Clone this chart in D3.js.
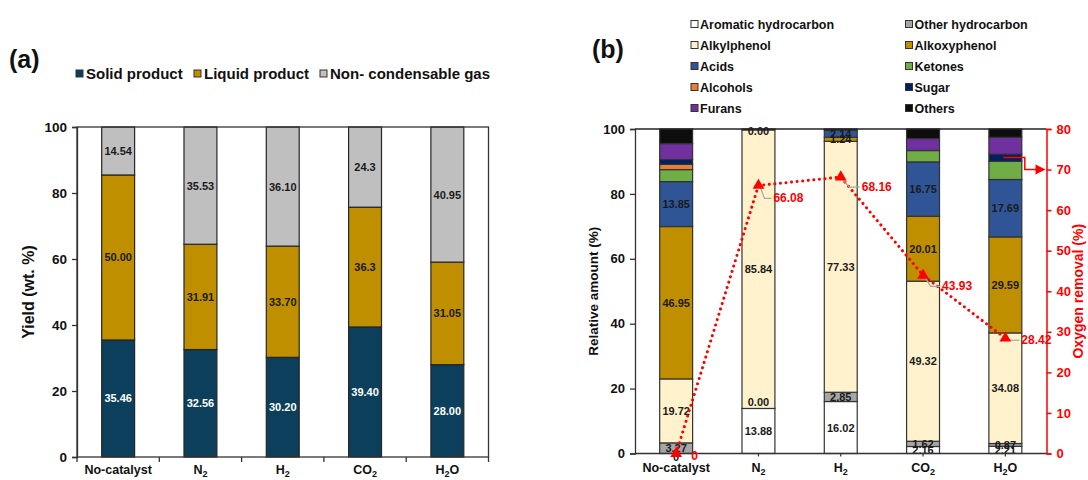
<!DOCTYPE html>
<html><head><meta charset="utf-8">
<script src="https://cdn.jsdelivr.net/npm/d3@7"></script>
<style>
body{margin:0;background:#fff}
svg{display:block}
text{font-family:"Liberation Sans",Arial,sans-serif;font-weight:bold}
</style>
</head><body>
<svg id="chart" width="1088" height="480"></svg>
<script>
// ---- shared categories ----
const categories = ["No-catalyst", "N2", "H2", "CO2", "H2O"];

// ---- panel (a): product yields, wt.% (values kept as printed) ----
const yieldSeries = ["Solid product", "Liquid product", "Non- condensable gas"];
const solidProduct  = ["35.46", "32.56", "30.20", "39.40", "28.00"];
const liquidProduct = ["50.00", "31.91", "33.70", "36.3", "31.05"];
const gasProduct    = ["14.54", "35.53", "36.10", "24.3", "40.95"];
const yTicksA = [0, 20, 40, 60, 80, 100];

// ---- panel (b): liquid composition, relative amount % ----
const compoundSeries = ["Aromatic hydrocarbon", "Other hydrocarbon", "Alkylphenol", "Alkoxyphenol",
  "Acids", "Ketones", "Alcohols", "Sugar", "Furans", "Others"];
const aromaticHC   = [0, 13.88, 16.02, 2.16, 2.21];
const otherHC      = [3.27, 0, 2.85, 1.62, 0.87];
const alkylphenol  = [19.72, 85.84, 77.33, 49.32, 34.08];
const alkoxyphenol = [46.95, 0, 1.24, 20.01, 29.59];
const acids        = [13.85, 0, 2.14, 16.75, 17.69];
const ketones      = [3.7, 0, 0, 3.5, 5.6];
const alcohols     = [1.6, 0, 0, 0, 0];
const sugar        = [1.5, 0, 0, 0, 2.2];
const furans       = [4.9, 0, 0, 3.7, 5.2];
const others       = [4.5, 0.28, 0.42, 2.94, 2.56];
const oxygenRemoval = [0, 66.08, 68.16, 43.93, 28.42];
const yTicksB = [0, 20, 40, 60, 80, 100];
const yTicksR = [0, 10, 20, 30, 40, 50, 60, 70, 80];

// ---- styling ----
const yieldColors = ["#0b3f5c", "#bf8f00", "#bfbfbf"];
const yieldLabelColors = ["#ffffff", "#1a1a1a", "#1a1a1a"];
const compoundColors = ["#ffffff", "#a6a6a6", "#fff2cc", "#bf8f00", "#2f5597",
  "#70ad47", "#ed7d31", "#002060", "#7030a0", "#0d0d0d"];
const labeledCompounds = 5; // first five series carry value labels
const RED = "#ff0000";

const svg = d3.select("#chart");

// writes a category name with chemical subscripts (N2 -> N₂)
function chemText(sel, name, size) {
  const parts = name.match(/[A-Za-z\-]+|\d+/g);
  parts.forEach((p, i) => {
    const prevSub = i > 0 && /\d/.test(parts[i - 1]);
    if (/^\d+$/.test(p) && i > 0) {
      sel.append("tspan").attr("dy", 3).attr("font-size", size * 0.72).text(p);
    } else {
      sel.append("tspan").attr("dy", prevSub ? -3 : 0).text(p);
    }
  });
}

// ================= panel (a) =================
(function () {
  const left = 77, right = 488.5, top = 127, bottom = 457;
  const x = d3.scaleBand().domain(categories).range([left, right]).paddingInner(0.6).paddingOuter(0.3);
  const y = d3.scaleLinear().domain([0, 100]).range([bottom, top]);
  const g = svg.append("g");

  const rows = categories.map((c, i) => ({
    cat: c, "Solid product": +solidProduct[i], "Liquid product": +liquidProduct[i],
    "Non- condensable gas": +gasProduct[i],
    text: { "Solid product": solidProduct[i], "Liquid product": liquidProduct[i], "Non- condensable gas": gasProduct[i] }
  }));
  const stacked = d3.stack().keys(yieldSeries)(rows);

  stacked.forEach((layer, si) => {
    const lg = g.append("g");
    lg.selectAll("rect").data(layer).join("rect")
      .attr("x", d => x(d.data.cat)).attr("width", x.bandwidth())
      .attr("y", d => y(d[1])).attr("height", d => y(d[0]) - y(d[1]))
      .attr("fill", yieldColors[si]).attr("stroke", "#262626").attr("stroke-width", 1.2);
    lg.selectAll("text").data(layer).join("text")
      .attr("x", d => x(d.data.cat) + x.bandwidth() / 2)
      .attr("y", d => (y(d[0]) + y(d[1])) / 2 + 4)
      .attr("text-anchor", "middle").attr("font-size", 11)
      .attr("fill", yieldLabelColors[si])
      .text(d => d.data.text[layer.key]);
  });

  // frame
  g.append("rect").attr("x", left).attr("y", top).attr("width", right - left).attr("height", bottom - top)
    .attr("fill", "none").attr("stroke", "#333").attr("stroke-width", 1.3);

  // y axis
  const ya = g.append("g").attr("transform", `translate(${left},0)`)
    .call(d3.axisLeft(y).tickValues(yTicksA).tickSize(5).tickPadding(5));
  ya.select(".domain").attr("stroke", "#333").attr("stroke-width", 1.3);
  ya.selectAll(".tick line").attr("stroke", "#333").attr("stroke-width", 1.3);
  ya.selectAll(".tick text").attr("font-size", 13.5).attr("fill", "#111")
    .attr("font-family", "Liberation Sans, Arial, sans-serif").attr("font-weight", "bold");

  // x ticks at category boundaries
  g.selectAll("line.xt").data(d3.range(categories.length + 1)).join("line")
    .attr("x1", i => left + i * (right - left) / categories.length)
    .attr("x2", i => left + i * (right - left) / categories.length)
    .attr("y1", bottom).attr("y2", bottom + 5).attr("stroke", "#333").attr("stroke-width", 1.3);

  categories.forEach(c => {
    const t = g.append("text").attr("x", x(c) + x.bandwidth() / 2).attr("y", bottom + 17)
      .attr("text-anchor", "middle").attr("font-size", 12.5).attr("fill", "#111");
    chemText(t, c, 12.5);
  });

  // axis title
  g.append("text").attr("transform", `translate(34,${(top + bottom) / 2}) rotate(-90)`)
    .attr("text-anchor", "middle").attr("font-size", 16).attr("fill", "#111").text("Yield (wt. %)");

  // panel tag
  g.append("text").attr("x", 9).attr("y", 68).attr("font-size", 25).attr("fill", "#111").text("(a)");

  // legend
  const legX = [76, 194, 320];
  yieldSeries.forEach((s, i) => {
    g.append("rect").attr("x", legX[i]).attr("y", 70).attr("width", 7).attr("height", 7)
      .attr("fill", yieldColors[i]).attr("stroke", "#333").attr("stroke-width", 1);
    g.append("text").attr("x", legX[i] + 10).attr("y", 79).attr("font-size", 15).attr("fill", "#111").text(s);
  });
})();

// ================= panel (b) =================
(function () {
  const left = 635, right = 1046.5, top = 129, bottom = 453.5;
  const x = d3.scaleBand().domain(categories).range([left, right]).paddingInner(0.6).paddingOuter(0.3);
  const y = d3.scaleLinear().domain([0, 100]).range([bottom, top]);
  const yR = d3.scaleLinear().domain([0, 80]).range([bottom, top]);
  const g = svg.append("g");
  const fmt = d3.format(".2f");

  const seriesValues = [aromaticHC, otherHC, alkylphenol, alkoxyphenol, acids,
    ketones, alcohols, sugar, furans, others];
  const rows = categories.map((c, i) => {
    const r = { cat: c };
    compoundSeries.forEach((s, k) => r[s] = seriesValues[k][i]);
    return r;
  });
  const stacked = d3.stack().keys(compoundSeries)(rows);

  stacked.forEach((layer, si) => {
    g.append("g").selectAll("rect").data(layer.filter(d => d[1] - d[0] > 0)).join("rect")
      .attr("x", d => x(d.data.cat)).attr("width", x.bandwidth())
      .attr("y", d => y(d[1])).attr("height", d => y(d[0]) - y(d[1]))
      .attr("fill", compoundColors[si]).attr("stroke", "#333").attr("stroke-width", 1.2);
  });

  // value labels for the labelled series
  const lblG = g.append("g");
  categories.forEach((c, ci) => {
    const used = [];
    for (let si = 0; si < labeledCompounds; si++) {
      const d = stacked[si][ci];
      const v = d[1] - d[0];
      let cy;
      if (v === 0) {
        const yb = y(d[0]);
        if (d[0] === 0) cy = yb + 3;
        else if (d[0] > 99) cy = yb + 1;
        else cy = yb - 6;
      } else cy = (y(d[0]) + y(d[1])) / 2;
      if (used.some(u => Math.abs(u - cy) < 1)) continue;
      used.push(cy);
      lblG.append("text").attr("x", x(c) + x.bandwidth() / 2).attr("y", cy + 4)
        .attr("text-anchor", "middle").attr("font-size", 11).attr("fill", "#1a1a1a")
        .text(v === 0 && ci === 0 ? "0" : fmt(seriesValues[si][ci]));
    }
  });

  // top frame line
  g.append("line").attr("x1", left).attr("x2", right).attr("y1", top).attr("y2", top)
    .attr("stroke", "#222").attr("stroke-width", 1.5);

  // left axis
  const ya = g.append("g").attr("transform", `translate(${left},0)`)
    .call(d3.axisLeft(y).tickValues(yTicksB).tickSize(5).tickPadding(5));
  ya.select(".domain").attr("stroke", "#333").attr("stroke-width", 1.3);
  ya.selectAll(".tick line").attr("stroke", "#333").attr("stroke-width", 1.3);
  ya.selectAll(".tick text").attr("font-size", 13).attr("fill", "#111")
    .attr("font-family", "Liberation Sans, Arial, sans-serif").attr("font-weight", "bold");

  // right axis (oxygen removal)
  const yr = g.append("g").attr("transform", `translate(${right},0)`)
    .call(d3.axisRight(yR).tickValues(yTicksR).tickSize(5).tickPadding(5));
  yr.select(".domain").attr("stroke", RED).attr("stroke-width", 1.5);
  yr.selectAll(".tick line").attr("stroke", RED).attr("stroke-width", 1.5);
  yr.selectAll(".tick text").attr("font-size", 13).attr("fill", RED)
    .attr("font-family", "Liberation Sans, Arial, sans-serif").attr("font-weight", "bold");

  // bottom axis
  g.append("line").attr("x1", left).attr("x2", right).attr("y1", bottom).attr("y2", bottom)
    .attr("stroke", "#333").attr("stroke-width", 1.3);
  categories.forEach(c => {
    const cx = x(c) + x.bandwidth() / 2;
    g.append("line").attr("x1", cx).attr("x2", cx).attr("y1", bottom).attr("y2", bottom + 3)
      .attr("stroke", "#333").attr("stroke-width", 1.2);
    const t = g.append("text").attr("x", cx).attr("y", bottom + 18)
      .attr("text-anchor", "middle").attr("font-size", 12.5).attr("fill", "#111");
    chemText(t, c, 12.5);
  });

  // axis titles
  g.append("text").attr("transform", `translate(598,${(top + bottom) / 2}) rotate(-90)`)
    .attr("text-anchor", "middle").attr("font-size", 13.5).attr("fill", "#111").text("Relative amount (%)");
  g.append("text").attr("transform", `translate(1083,${(top + bottom) / 2}) rotate(-90)`)
    .attr("text-anchor", "middle").attr("font-size", 14).attr("fill", RED).text("Oxygen removal (%)");

  // oxygen removal line
  const pts = categories.map((c, i) => [x(c) + x.bandwidth() / 2, yR(oxygenRemoval[i])]);
  g.append("path").attr("d", d3.line()(pts)).attr("fill", "none").attr("stroke", RED)
    .attr("stroke-width", 3).attr("stroke-linecap", "round").attr("stroke-dasharray", "0.1 5.5");
  const labelOffset = [[15, 2], [15, 13], [21, 10], [19, 11], [16, 2]];
  pts.forEach((p, i) => {
    const [dx, dy] = labelOffset[i];
    if (i > 0) {
      g.append("path")
        .attr("d", `M${p[0] + 2},${p[1] + 2} L${p[0] + dx * 0.4},${p[1] + dy} L${p[0] + dx - 2},${p[1] + dy}`)
        .attr("fill", "none").attr("stroke", "#a6a6a6").attr("stroke-width", 1.2);
    }
    g.append("text").attr("x", p[0] + dx).attr("y", p[1] + dy + 4)
      .attr("font-size", 12).attr("fill", RED)
      .text(oxygenRemoval[i] === 0 ? "0" : fmt(oxygenRemoval[i]));
  });
  g.selectAll("path.tri").data(pts).join("path")
    .attr("transform", p => `translate(${p[0]},${p[1]})`)
    .attr("d", d3.symbol(d3.symbolTriangle, 60)).attr("fill", RED);

  // pointer from the line series to its axis
  const lastX = x(categories[4]) + x.bandwidth() / 2;
  const elbowX = x(categories[4]) + x.bandwidth() + 3;
  g.append("path")
    .attr("d", `M${lastX - 2},${yR(73)} H${elbowX} V${yR(70)} H${right - 8}`)
    .attr("fill", "none").attr("stroke", RED).attr("stroke-width", 1.5);
  g.append("path")
    .attr("d", `M${right - 1},${yR(70)} l-10,-5 v10 z`).attr("fill", RED);

  // panel tag
  g.append("text").attr("x", 592).attr("y", 58).attr("font-size", 25).attr("fill", "#111").text("(b)");

  // legend, two columns
  const colX = [691, 905.5];
  compoundSeries.forEach((s, i) => {
    const cx = colX[i % 2], cy = 24 + Math.floor(i / 2) * 21;
    g.append("rect").attr("x", cx).attr("y", cy - 3.5).attr("width", 7).attr("height", 7)
      .attr("fill", compoundColors[i]).attr("stroke", "#333").attr("stroke-width", 1);
    g.append("text").attr("x", cx + 9).attr("y", cy + 4.5).attr("font-size", 12.5).attr("fill", "#111").text(s);
  });
})();
</script>
</body></html>
